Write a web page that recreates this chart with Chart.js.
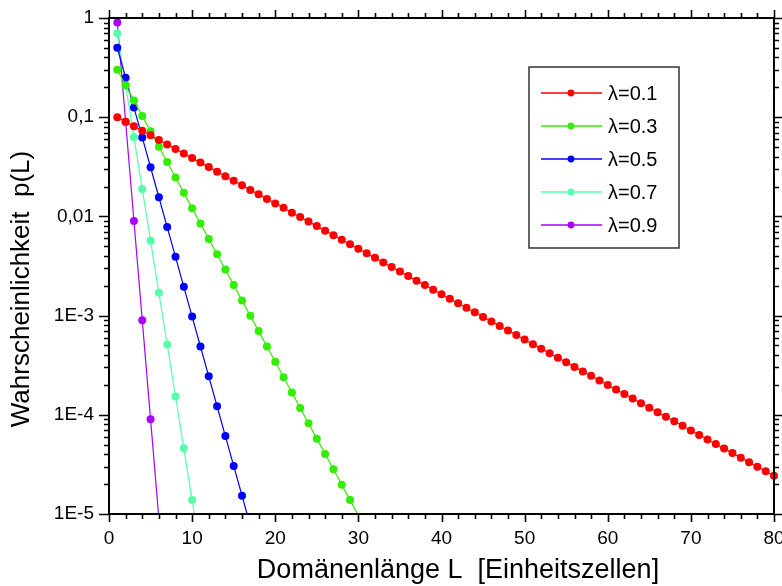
<!DOCTYPE html>
<html>
<head>
<meta charset="utf-8">
<script src="https://cdn.jsdelivr.net/npm/chart.js@4.4.1/dist/chart.umd.min.js"></script>
<style>
html,body{margin:0;padding:0;background:#fff;}
</style>
</head>
<body>
<canvas id="probChart" width="782" height="586"></canvas>
<script>
const domainLengths = [1,2,3,4,5,6,7,8,9,10,11,12,13,14,15,16,17,18,19,20,
    21,22,23,24,25,26,27,28,29,30,31,32,33,34,35,36,37,38,39,40,
    41,42,43,44,45,46,47,48,49,50,51,52,53,54,55,56,57,58,59,60,
    61,62,63,64,65,66,67,68,69,70,71,72,73,74,75,76,77,78,79,80];

const seriesLabels = ['λ=0.1','λ=0.3','λ=0.5','λ=0.7','λ=0.9'];

const pLambda01 = [0.1,0.09,0.081,0.0729,0.0656,0.0590,0.0531,0.0478,0.0430,0.0387,
    0.0349,0.0314,0.0282,0.0254,0.0229,0.0206,0.0185,0.0167,0.0150,0.0135,
    0.0122,0.0109,0.00985,0.00886,0.00798,0.00718,0.00646,0.00581,0.00523,0.00471,
    0.00424,0.00382,0.00343,0.00309,0.00278,0.00250,0.00225,0.00203,0.00182,0.00164,
    0.00148,0.00133,0.00120,0.00108,9.70e-4,8.73e-4,7.86e-4,7.07e-4,6.36e-4,5.73e-4,
    5.15e-4,4.64e-4,4.17e-4,3.76e-4,3.38e-4,3.04e-4,2.74e-4,2.47e-4,2.22e-4,2.00e-4,
    1.80e-4,1.62e-4,1.46e-4,1.31e-4,1.18e-4,1.06e-4,9.55e-5,8.60e-5,7.74e-5,6.96e-5,
    6.27e-5,5.64e-5,5.08e-5,4.57e-5,4.11e-5,3.70e-5,3.33e-5,3.00e-5,2.70e-5,2.43e-5];
const pLambda03 = [0.3,0.21,0.147,0.103,0.0720,0.0504,0.0353,0.0247,0.0173,0.0121,
    0.00847,0.00593,0.00415,0.00291,0.00203,0.00142,9.97e-4,6.98e-4,4.89e-4,3.42e-4,
    2.39e-4,1.68e-4,1.17e-4,8.21e-5,5.75e-5,4.02e-5,2.82e-5,1.97e-5,1.38e-5,9.66e-6,6.76e-6];
const pLambda05 = [0.5,0.25,0.125,0.0625,0.0313,0.0156,0.00781,0.00391,0.00195,9.77e-4,
    4.88e-4,2.44e-4,1.22e-4,6.10e-5,3.05e-5,1.53e-5,7.63e-6];
const pLambda07 = [0.7,0.21,0.063,0.0189,0.00567,0.00170,5.10e-4,1.53e-4,4.59e-5,1.38e-5,4.13e-6];
const pLambda09 = [0.9,0.09,0.009,9.0e-4,9.0e-5,9.0e-6];

const xTickValues = [0,10,20,30,40,50,60,70,80];
const yTickValues = [1e-5,1e-4,1e-3,0.01,0.1,1];
const yTickLabels = ['1E-5','1E-4','1E-3','0,01','0,1','1'];

const xTitle = 'Domänenlänge L  [Einheitszellen]';
const yTitle = 'Wahrscheinlichkeit  p(L)';

const seriesColors = ['#ff0000','#33ee00','#0000ff','#55ffaa','#aa00ff'];
const FONT = "'Liberation Sans', Arial, sans-serif";
const Y_MIN = 1e-5;

function toPoints(values) {
    return values.map((v, i) => ({x: domainLengths[i], y: v}));
}

// frame, ticks on all four sides, axis titles
const framePlugin = {
    id: 'frame',
    afterDraw(chart) {
        const ctx = chart.ctx;
        const a = chart.chartArea;
        const xs = chart.scales.x, ys = chart.scales.y;
        ctx.save();
        ctx.strokeStyle = '#000';
        ctx.lineWidth = 2;
        ctx.strokeRect(a.left, a.top, a.right - a.left, a.bottom - a.top);

        ctx.lineWidth = 1.6;
        ctx.beginPath();
        for (let v = 0; v <= 80; v += 2) {
            const px = Math.round(xs.getPixelForValue(v)) + 0.5;
            const len = v % 10 === 0 ? 8 : 5;
            ctx.moveTo(px, a.bottom); ctx.lineTo(px, a.bottom + len);
            ctx.moveTo(px, a.top); ctx.lineTo(px, a.top - len);
        }
        for (let e = -5; e <= 0; e++) {
            for (let m = 1; m <= 9; m++) {
                if (e === 0 && m > 1) break;
                const py = Math.round(ys.getPixelForValue(m * Math.pow(10, e))) + 0.5;
                const len = m === 1 ? 10 : 5;
                ctx.moveTo(a.left, py); ctx.lineTo(a.left - len, py);
                ctx.moveTo(a.right, py); ctx.lineTo(a.right + len, py);
            }
        }
        ctx.stroke();

        ctx.fillStyle = '#000';
        ctx.textAlign = 'center';
        ctx.textBaseline = 'middle';
        ctx.font = '27px ' + FONT;
        ctx.fillText(xTitle, 458, 571);
        ctx.translate(22, 289);
        ctx.rotate(-Math.PI / 2);
        ctx.font = '26px ' + FONT;
        ctx.fillText(yTitle, 0, 0);
        ctx.restore();
    }
};

// legend box inside the plot
const legendBoxPlugin = {
    id: 'legendBox',
    afterDraw(chart) {
        const ctx = chart.ctx;
        ctx.save();
        ctx.fillStyle = '#fff';
        ctx.fillRect(529, 67, 150, 181);
        ctx.strokeStyle = '#333';
        ctx.lineWidth = 1.5;
        ctx.strokeRect(529, 67, 150, 181);
        ctx.font = '20px ' + FONT;
        ctx.textBaseline = 'middle';
        ctx.textAlign = 'left';
        chart.data.datasets.forEach((ds, i) => {
            const y = 93 + i * 33;
            ctx.strokeStyle = ds.borderColor;
            ctx.lineWidth = 1.3;
            ctx.beginPath();
            ctx.moveTo(541, y); ctx.lineTo(602, y);
            ctx.stroke();
            ctx.fillStyle = ds.pointBackgroundColor;
            ctx.beginPath();
            ctx.arc(571, y, 3.4, 0, Math.PI * 2);
            ctx.fill();
            ctx.fillStyle = '#000';
            ctx.fillText(ds.label, 608, y + 1);
        });
        ctx.restore();
    }
};

const allSeries = [pLambda01, pLambda03, pLambda05, pLambda07, pLambda09];

new Chart(document.getElementById('probChart'), {
    type: 'line',
    data: {
        datasets: allSeries.map((vals, i) => ({
            label: seriesLabels[i],
            data: toPoints(vals),
            borderColor: seriesColors[i],
            backgroundColor: seriesColors[i],
            pointBackgroundColor: seriesColors[i],
            borderWidth: 1.2,
            pointBorderWidth: 0,
            pointRadius: ctx => (ctx.raw && ctx.raw.y < Y_MIN) ? 0 : 4,
            tension: 0,
            fill: false,
            clip: {left: 6, right: 6, top: 6, bottom: 0}
        }))
    },
    options: {
        responsive: false,
        animation: false,
        layout: {padding: {left: 0, right: 8, top: 18, bottom: 0}},
        plugins: {
            legend: {display: false},
            tooltip: {enabled: false}
        },
        scales: {
            x: {
                type: 'linear',
                min: 0,
                max: 80,
                grid: {display: false, drawTicks: false},
                border: {display: false},
                afterBuildTicks: s => { s.ticks = xTickValues.map(v => ({value: v})); },
                afterFit: s => { s.height = 72; s.paddingLeft = 0; s.paddingRight = 0; },
                ticks: {
                    autoSkip: false,
                    maxRotation: 0,
                    padding: 13,
                    color: '#000',
                    font: {family: FONT, size: 19}
                }
            },
            y: {
                type: 'logarithmic',
                min: 1e-5,
                max: 1,
                grid: {display: false, drawTicks: false},
                border: {display: false},
                afterBuildTicks: s => { s.ticks = yTickValues.map(v => ({value: v})); },
                afterFit: s => { s.width = 109; s.paddingTop = 0; s.paddingBottom = 0; },
                ticks: {
                    autoSkip: false,
                    padding: 15,
                    color: '#000',
                    font: {family: FONT, size: 19},
                    callback: (value, index) => yTickLabels[index]
                }
            }
        }
    },
    plugins: [framePlugin, legendBoxPlugin]
});
</script>
</body>
</html>
